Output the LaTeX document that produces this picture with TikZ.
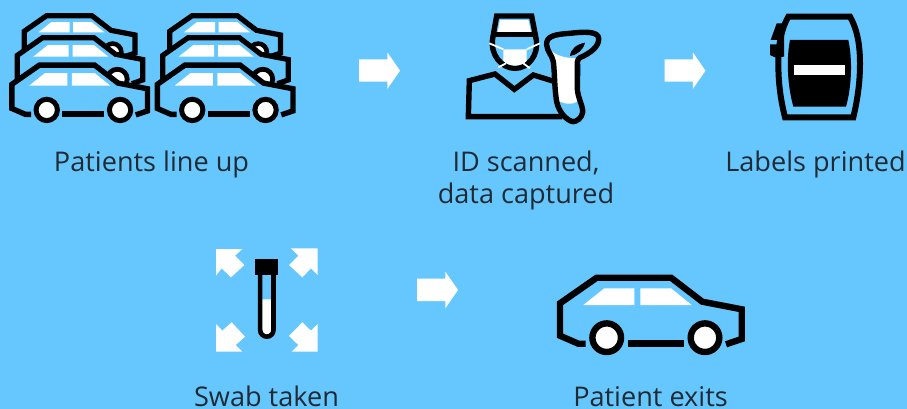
\documentclass[tikz,border=0pt]{standalone}
\usepackage{fontspec}
\setmainfont{Open Sans}
\definecolor{bgblue}{HTML}{66C7FF}
\definecolor{ink}{HTML}{1F2A33}
\definecolor{trig}{HTML}{1E9AD6}
\tikzset{
  label text/.style={text=ink,font=\fontsize{27.1}{30}\selectfont,anchor=base,inner sep=0pt},
  stroke/.style={draw=black,line join=miter},
  zoomscope/.style={shift={#1},scale=1/3}
}
% x, y, scale, line width, wheel line width
\newcommand{\mycar}[5]{%
\begin{scope}[shift={(#1,#2)},scale=#3]
  \fill[bgblue] (18.3,66)--(0,58)--(0,25.6)--(36.7,0)--(111,0)--(142.3,24)--(181.7,31.6)--(181.7,61.3)--(166,66.6)--cycle;
  \draw[stroke,line width=#4] (25.7,66)--(18.3,66)--(0,58)--(0,25.6)--(36.7,0)--(111,0)--(142.3,24)--(181.7,31.6)--(181.7,61.3)--(166,66.6);
  \draw[stroke,line width=#4] (67.7,65.6)--(124,65.6);
  \fill[white] (23.3,27.3)--(44.3,10.6)--(74.3,10.6)--(74.3,27.3)--cycle;
  \fill[white] (80.3,10.6)--(111,10.6)--(131.7,27.3)--(80.3,27.3)--cycle;
  \draw[stroke,fill=white,line width=#5] (46.7,60) circle[radius=14.3];
  \draw[stroke,fill=white,line width=#5] (145,60) circle[radius=14.3];
\end{scope}}
\newcommand{\myarrow}[2]{%
  \fill[white,shift={(#1,#2)}] (0,-11.4)--(28.3,-11.4)--(28.3,-18.4)--(41,0)--(28.3,18.3)--(28.3,11)--(0,11)--cycle;}
\begin{document}
\begin{tikzpicture}[x=1pt,y=-1pt]
\useasboundingbox[fill=bgblue] (0,0) rectangle (907,409);
% car stacks
\foreach \dx in {0,145.5}{
  \mycar{24.2+\dx}{15.7}{0.61}{5.2pt}{4.6pt}
  \mycar{17.3+\dx}{37.7}{0.69}{5.2pt}{4.8pt}
  \mycar{11.9+\dx}{65.2}{0.746}{5.4pt}{5pt}
}
% flow arrows
\myarrow{359}{70.7}
\myarrow{664.5}{70.7}
\myarrow{417}{290}
% operator
\begin{scope}[zoomscope={(450,0)}]
  \fill[white] (150,60)--(235,60)--(243,96)--(143,96)--cycle;
  \draw[stroke,line width=5.4pt] (140,48)--(245,48)--(258,115) .. controls (268,165) and (235,205) .. (195,205) .. controls (155,205) and (120,165) .. (128,115)--cycle;
  \draw[stroke,line width=5.4pt] (132,104)--(255,104);
  \draw[stroke,line width=5.4pt] (336,350)--(55,350)--(58,242)--(135,222)--(193,268)--(250,225)--(315,245);
  \fill[white] (160,148)--(230,148)--(230,182) .. controls (215,202) and (175,202) .. (160,182)--cycle;
  \draw[white,line width=1.8pt] (118,130)--(160,148) (270,130)--(230,148) (145,202)--(168,190) (240,205)--(220,190);
\end{scope}
% scanner
\begin{scope}[zoomscope={(540,25)}]
  \fill[trig] (108,118)--(124,118)--(124,152)--(108,152)--cycle;
  \path[fill=bgblue] (20,60) .. controls (18,35) and (40,28) .. (90,25) .. controls (130,20) and (175,18) .. (176,40) .. controls (178,65) and (150,85) .. (120,98) .. controls (110,104) and (112,115) .. (112,130)--(112,190) .. controls (112,215) and (130,245) .. (128,262) .. controls (125,280) and (110,290) .. (98,290) .. controls (78,285) and (56,260) .. (50,230) .. controls (43,190) and (44,140) .. (40,110) .. controls (36,90) and (22,80) .. (20,60)--cycle;
  \fill[white] (24,68) .. controls (45,92) and (75,100) .. (112,100)--(112,230) .. controls (95,240) and (75,238) .. (52,226) .. controls (43,190) and (44,130) .. (40,105)--cycle;
  \draw[stroke,line join=round,line width=5.4pt] (20,60) .. controls (18,35) and (40,28) .. (90,25) .. controls (130,20) and (175,18) .. (176,40) .. controls (178,65) and (150,85) .. (120,98) .. controls (110,104) and (112,115) .. (112,130)--(112,190) .. controls (112,215) and (130,245) .. (128,262) .. controls (125,280) and (110,290) .. (98,290) .. controls (78,285) and (56,260) .. (50,230) .. controls (43,190) and (44,140) .. (40,110) .. controls (36,90) and (22,80) .. (20,60)--cycle;
  \fill[black] (90,93) .. controls (93,70) and (110,58) .. (135,53) .. controls (130,75) and (112,90) .. (90,93)--cycle;
\end{scope}
% label printer
\begin{scope}[zoomscope={(760,0)}]
  \draw[stroke,line width=6pt] (85,50)--(270,50) .. controls (290,85) and (300,130) .. (300,190) .. controls (300,250) and (292,300) .. (280,352)--(75,352) .. controls (62,300) and (55,250) .. (55,190) .. controls (55,130) and (65,85) .. (85,50)--cycle;
  \fill[black] (90,120)--(265,120) .. controls (278,180) and (275,260) .. (258,320)--(100,320) .. controls (83,260) and (78,180) .. (90,120)--cycle;
  \fill[white] (102,195) rectangle (256,225);
  \fill[black] (50,70)--(72,70)--(72,170)--(45,172)--(30,165)--(30,133)--(52,133)--(52,120)--(32,120)--cycle;
\end{scope}
% test tube
\begin{scope}[zoomscope={(205,240)}]
  \fill[white] (165,178)--(206,178)--(206,270) arc[start angle=0,end angle=180,radius=20.5] --cycle;
  \draw[stroke,line width=4.6pt] (165.5,100)--(165.5,270) arc[start angle=180,end angle=0,radius=20] --(205.5,100);
  \fill[black] (150,57) rectangle (219,104);
  \fill[white] (33,27)--(112,27)--(90,47)--(118,75)--(78,112)--(50,85)--(33,107)--cycle;
  \fill[white] (338,25)--(258,25)--(280,47)--(252,75)--(292,112)--(318,85)--(338,105)--cycle;
  \fill[white] (33,335)--(33,252)--(52,272)--(80,247)--(120,290)--(92,315)--(112,335)--cycle;
  \fill[white] (338,335)--(338,252)--(318,272)--(292,247)--(252,288)--(280,315)--(260,335)--cycle;
\end{scope}
% exit car
\mycar{560}{277.7}{1}{6.4pt}{6.4pt}
% labels
\node[label text] (t1) at (151.5,171) {Patients line up};
\node[label text] (t2) at (526,171.5) {ID scanned,};
\node[label text] (t3) at (526,203) {data captured};
\node[label text] (t4) at (815.5,171) {Labels printed};
\node[label text] (t5) at (266.5,406.5) {Swab taken};
\node[label text] (t6) at (650.5,406.5) {Patient exits};
\end{tikzpicture}
\end{document}
